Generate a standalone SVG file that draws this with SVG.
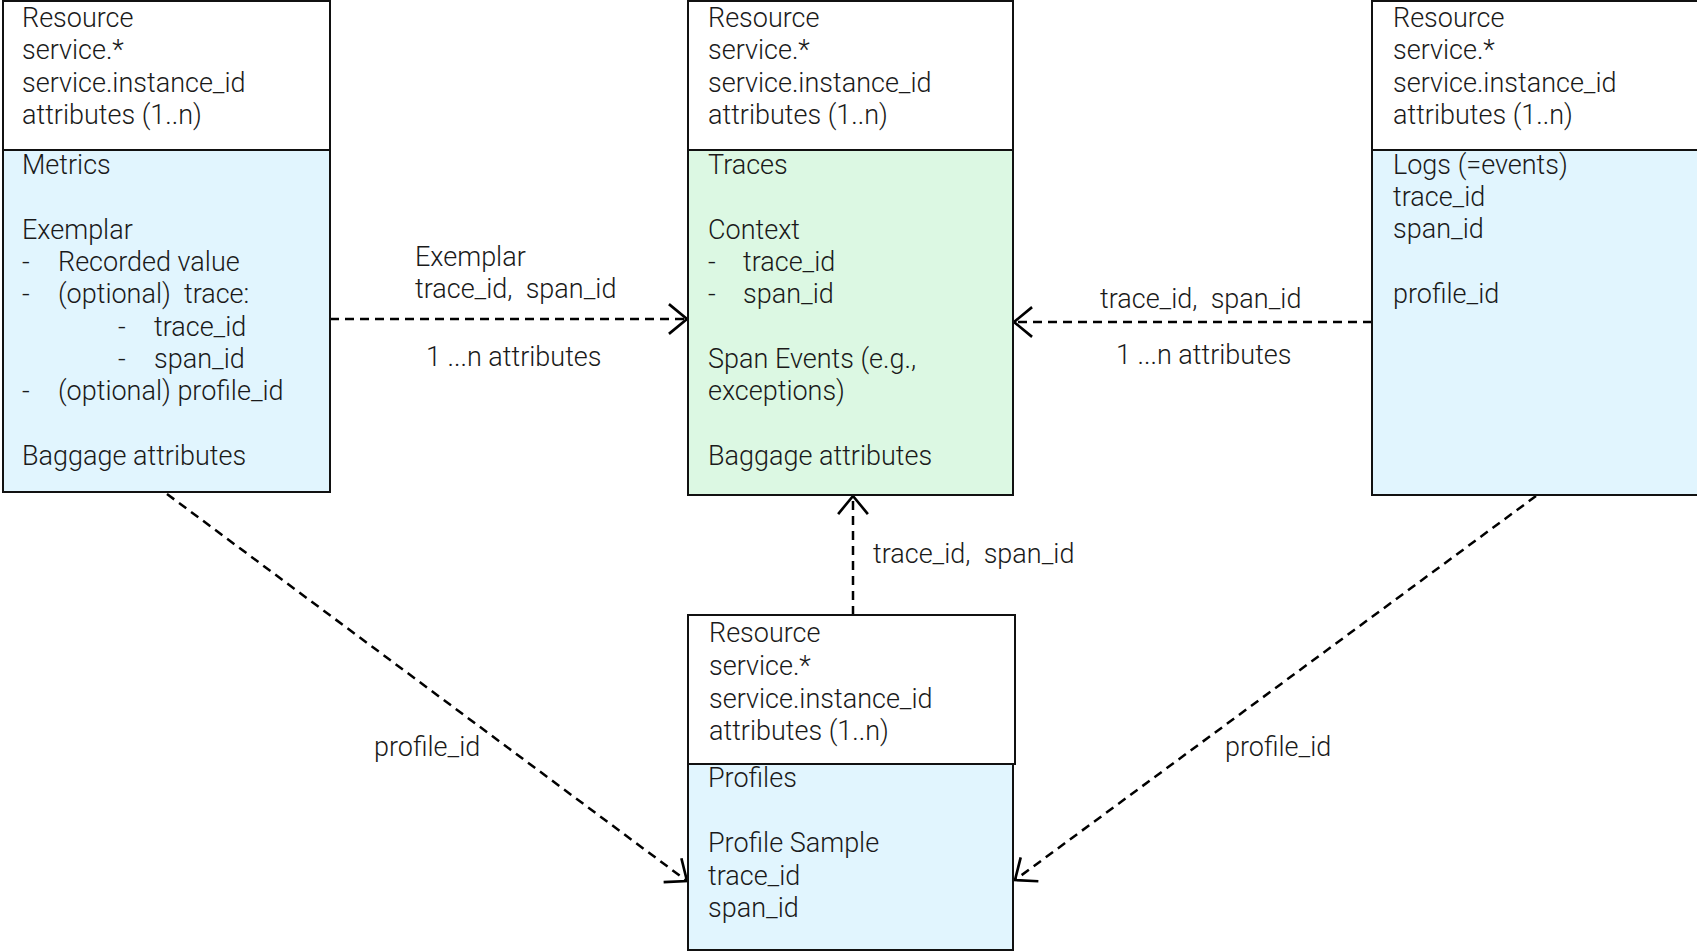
<svg xmlns="http://www.w3.org/2000/svg" width="1697" height="952" viewBox="0 0 1697 952">
  <style>
    text { font-family: Roboto, "Liberation Sans", sans-serif; font-size: 27px; font-weight: 300; fill: #1a1a1a; white-space: pre; }
    .box { stroke: #111; stroke-width: 2; }
    .res { fill: #ffffff; }
    .blue { fill: #e1f5fe; }
    .green { fill: #dcf8e3; }
    .link { fill: none; stroke: #000; stroke-width: 2.5; stroke-dasharray: 9 6; }
  </style>
  <defs>
    <marker id="open" markerUnits="userSpaceOnUse" markerWidth="30" markerHeight="34" viewBox="-20 -16 24 32" refX="0" refY="0" orient="auto">
      <path d="M -17 -14 L 0 0 L -17 14" fill="none" stroke="#000" stroke-width="2.5"/>
    </marker>
  </defs>

  <rect x="0" y="0" width="1697" height="952" fill="#ffffff"/>

  <!-- dashed references between signals, with their labels -->
  <g id="connectors">
    <line class="link" x1="330" y1="319" x2="687" y2="319" marker-end="url(#open)"/>
    <line class="link" x1="1372" y1="322" x2="1014" y2="322" marker-end="url(#open)"/>
    <line class="link" x1="853" y1="615" x2="853" y2="496" marker-end="url(#open)"/>
    <line class="link" x1="167" y1="494" x2="687" y2="881" marker-end="url(#open)"/>
    <line class="link" x1="1536" y1="496" x2="1015" y2="880" marker-end="url(#open)"/>
    <text xml:space="preserve"><tspan x="415" y="266">Exemplar</tspan><tspan x="415" y="298">trace_id,  span_id</tspan></text>
    <text x="426" y="366">1 ...n attributes</text>
    <text x="1100" y="308" xml:space="preserve">trace_id,  span_id</text>
    <text x="1116" y="364">1 ...n attributes</text>
    <text x="873" y="563" xml:space="preserve">trace_id,  span_id</text>
    <text x="374" y="756">profile_id</text>
    <text x="1225" y="756">profile_id</text>
  </g>

  <!-- metrics -->
  <g id="metrics">
    <rect class="box res" x="3" y="1" width="327" height="149"/>
    <rect class="box blue" x="3" y="150" width="327" height="342"/>
    <text><tspan x="22" y="27">Resource</tspan><tspan x="22" y="59">service.*</tspan><tspan x="22" y="92">service.instance_id</tspan><tspan x="22" y="124">attributes (1..n)</tspan></text>
    <text xml:space="preserve"><tspan x="22" y="174">Metrics</tspan><tspan x="22" y="239">Exemplar</tspan><tspan x="22" y="271">-</tspan><tspan x="58" y="271">Recorded value</tspan><tspan x="22" y="303">-</tspan><tspan x="58" y="303">(optional)  trace:</tspan><tspan x="118" y="336">-</tspan><tspan x="154" y="336">trace_id</tspan><tspan x="118" y="368">-</tspan><tspan x="154" y="368">span_id</tspan><tspan x="22" y="400">-</tspan><tspan x="58" y="400">(optional) profile_id</tspan><tspan x="22" y="465">Baggage attributes</tspan></text>
  </g>

  <!-- traces -->
  <g id="traces">
    <rect class="box res" x="688" y="1" width="325" height="149"/>
    <rect class="box green" x="688" y="150" width="325" height="345"/>
    <text><tspan x="708" y="27">Resource</tspan><tspan x="708" y="59">service.*</tspan><tspan x="708" y="92">service.instance_id</tspan><tspan x="708" y="124">attributes (1..n)</tspan></text>
    <text><tspan x="708" y="174">Traces</tspan><tspan x="708" y="239">Context</tspan><tspan x="708" y="271">-</tspan><tspan x="743" y="271">trace_id</tspan><tspan x="708" y="303">-</tspan><tspan x="743" y="303">span_id</tspan><tspan x="708" y="368">Span Events (e.g.,</tspan><tspan x="708" y="400">exceptions)</tspan><tspan x="708" y="465">Baggage attributes</tspan></text>
  </g>

  <!-- logs -->
  <g id="logs">
    <rect class="box res" x="1372" y="1" width="340" height="149"/>
    <rect class="box blue" x="1372" y="150" width="340" height="345"/>
    <text><tspan x="1393" y="27">Resource</tspan><tspan x="1393" y="59">service.*</tspan><tspan x="1393" y="92">service.instance_id</tspan><tspan x="1393" y="124">attributes (1..n)</tspan></text>
    <text><tspan x="1393" y="174">Logs (=events)</tspan><tspan x="1393" y="206">trace_id</tspan><tspan x="1393" y="238">span_id</tspan><tspan x="1393" y="303">profile_id</tspan></text>
  </g>

  <!-- profiles -->
  <g id="profiles">
    <rect class="box res" x="688" y="615" width="327" height="149"/>
    <rect class="box blue" x="688" y="764" width="325" height="186"/>
    <text><tspan x="709" y="642">Resource</tspan><tspan x="709" y="675">service.*</tspan><tspan x="709" y="708">service.instance_id</tspan><tspan x="709" y="740">attributes (1..n)</tspan></text>
    <text><tspan x="708" y="787">Profiles</tspan><tspan x="708" y="852">Profile Sample</tspan><tspan x="708" y="885">trace_id</tspan><tspan x="708" y="917">span_id</tspan></text>
  </g>
</svg>
